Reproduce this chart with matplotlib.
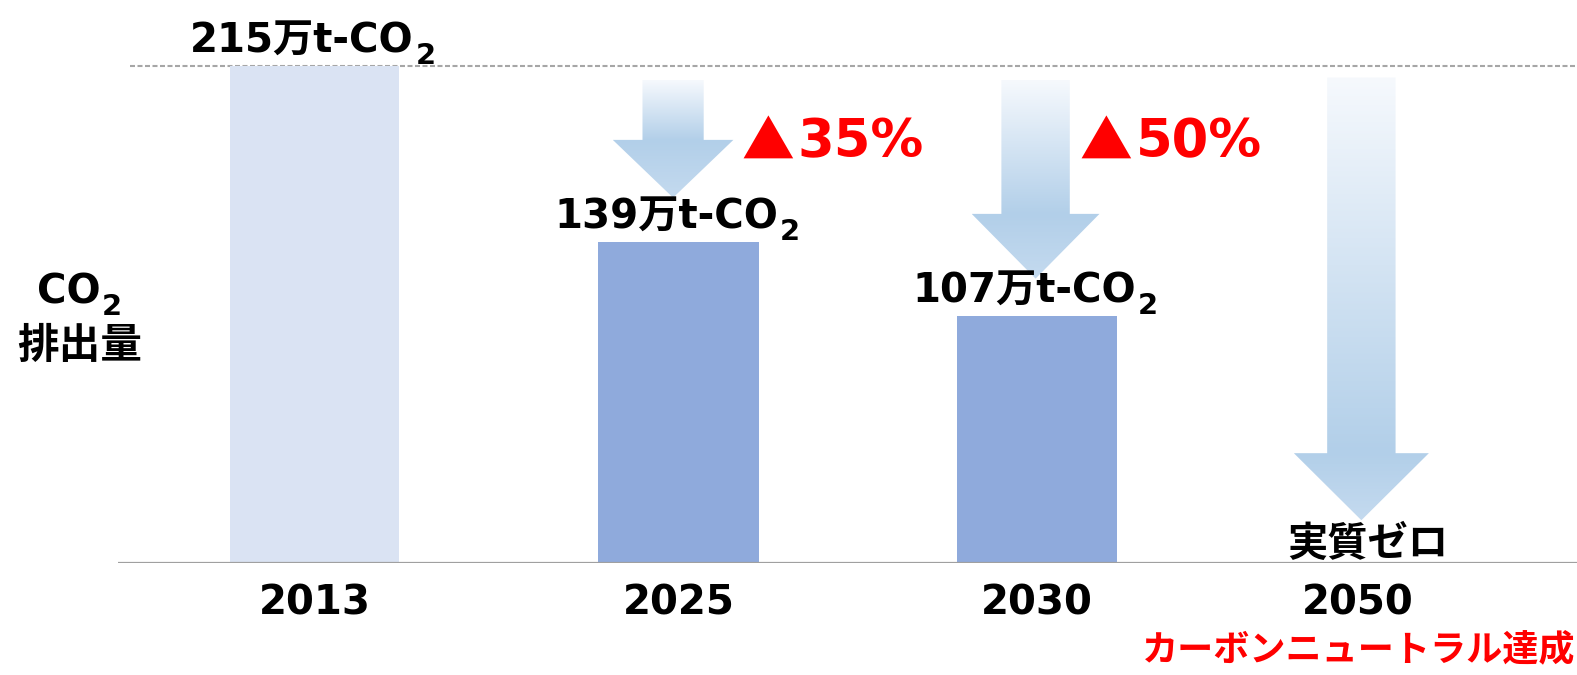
import numpy as np
import matplotlib
matplotlib.use("Agg")
import matplotlib.pyplot as plt
from matplotlib.patches import Polygon
from matplotlib.colors import to_rgb

plt.rcParams['font.family'] = ['DejaVu Sans', 'Noto Sans CJK JP']
plt.rcParams['font.weight'] = 'bold'

# data
years = ["2013", "2025", "2030", "2050"]
emissions = [215, 139, 107, 0]          # 万t-CO2
bar_colors = ["#DAE3F3", "#8FAADC", "#8FAADC", "#8FAADC"]
reductions = ["", "▲35%", "▲50%", ""]
zero_label = "実質ゼロ"
goal_label = "カーボンニュートラル達成"
ylabel_top = "CO"
ylabel_bottom = "排出量"

xpos = [0.007, 1.018, 2.013, 2.905]
widths = [0.47, 0.445, 0.445, 0.445]

fig = plt.figure(figsize=(15.77, 6.75), dpi=100)
ax = fig.add_axes([118 / 1577, 112 / 675, 1459 / 1577, 563 / 675])
ax.set_xlim(-0.539, 3.514)
ax.set_ylim(0, 243.5)
for s in ax.spines.values():
    s.set_visible(False)
ax.set_yticks([])
ax.set_xticks(xpos, years, fontsize=29, fontweight='bold')
ax.tick_params(axis='x', length=0, pad=15)

ax.axhline(0, color="#A0A0A0", lw=1.6, zorder=3)
ax.plot([-0.506, 3.514], [emissions[0], emissions[0]], color="#A6A6A6",
        lw=1.5, dashes=(2.4, 1.2), zorder=1)

ax.bar(xpos, emissions, width=widths, color=bar_colors, zorder=2)


def grad_arrow(xc, top, tip, shaft_w, head_w, head_len):
    y0 = tip + head_len
    verts = [(xc - shaft_w / 2, top), (xc + shaft_w / 2, top),
             (xc + shaft_w / 2, y0), (xc + head_w / 2, y0), (xc, tip),
             (xc - head_w / 2, y0), (xc - shaft_w / 2, y0)]
    poly = Polygon(verts, closed=True, facecolor='none', edgecolor='none')
    ax.add_patch(poly)
    n = 300
    t = np.linspace(0, 1, n)
    f = (top - y0) / (top - tip)
    c0 = np.array(to_rgb("#F6F9FD"))
    c1 = np.array(to_rgb("#B2CFE9"))
    c2 = np.array(to_rgb("#C4DAEF"))
    img = np.zeros((n, 1, 3))
    for i, v in enumerate(t):
        if v <= f:
            img[i, 0] = c0 + (c1 - c0) * (v / f)
        else:
            img[i, 0] = c1 + (c2 - c1) * ((v - f) / (1 - f))
    im = ax.imshow(img, extent=(xc - head_w / 2, xc + head_w / 2, tip, top),
                   origin='upper', aspect='auto', zorder=2)
    im.set_clip_path(poly)


grad_arrow(1.003, 209, emissions[1] + 19, 0.17, 0.335, 25)
grad_arrow(2.01, 209, emissions[2] + 16, 0.19, 0.355, 28)
grad_arrow(2.915, 210, emissions[3] + 18.5, 0.19, 0.375, 29)
ax.set_xlim(-0.539, 3.514)
ax.set_ylim(0, 243.5)


def co2_label(x, y, text, size, dx=0, dy=0, coords='data'):
    t = ax.annotate(text, xy=(x, y), xycoords=coords, xytext=(dx, dy),
                    textcoords='offset points', ha='center', va='center',
                    fontsize=size, fontweight='bold', zorder=5)
    ax.annotate("2", xy=(1, 0.5), xycoords=t, xytext=(1, -11),
                textcoords='offset points', ha='left', va='center',
                fontsize=size * 0.72, fontweight='bold', zorder=5)
    return t


for i in range(3):
    co2_label(xpos[i], emissions[i], f"{emissions[i]}万t-CO", 29, dx=-9, dy=18)

for i in (1, 2):
    mark = ax.text(xpos[i] + (0.175 if i == 1 else 0.12), 181.5, reductions[i][0],
                   color="#FF0000", fontsize=38, fontweight='bold', ha='left',
                   va='center', zorder=5,
                   family=['Noto Sans CJK JP', 'DejaVu Sans'])
    ax.annotate(reductions[i][1:], xy=(1, 0.5), xycoords=mark,
                xytext=(2, 1), textcoords='offset points',
                color="#FF0000", fontsize=38, fontweight='bold', ha='left',
                va='center', zorder=5)

ax.annotate(zero_label, xy=(xpos[3], 0), xytext=(7, 13),
            textcoords='offset points', ha='center', va='center',
            fontsize=29, fontweight='bold', zorder=5)
fig.text(1575 / 1577, 1 - 650 / 675, goal_label, ha='right', va='center',
         fontsize=26, fontweight='bold', color="#FF0000")

# y label
co2_label(69 / 1577, 1 - 292 / 675, ylabel_top, 29, coords='figure fraction')
fig.text(80 / 1577, 1 - 346 / 675, ylabel_bottom, ha='center', va='center',
         fontsize=30, fontweight='bold')

fig.savefig("out.png", dpi=100)
